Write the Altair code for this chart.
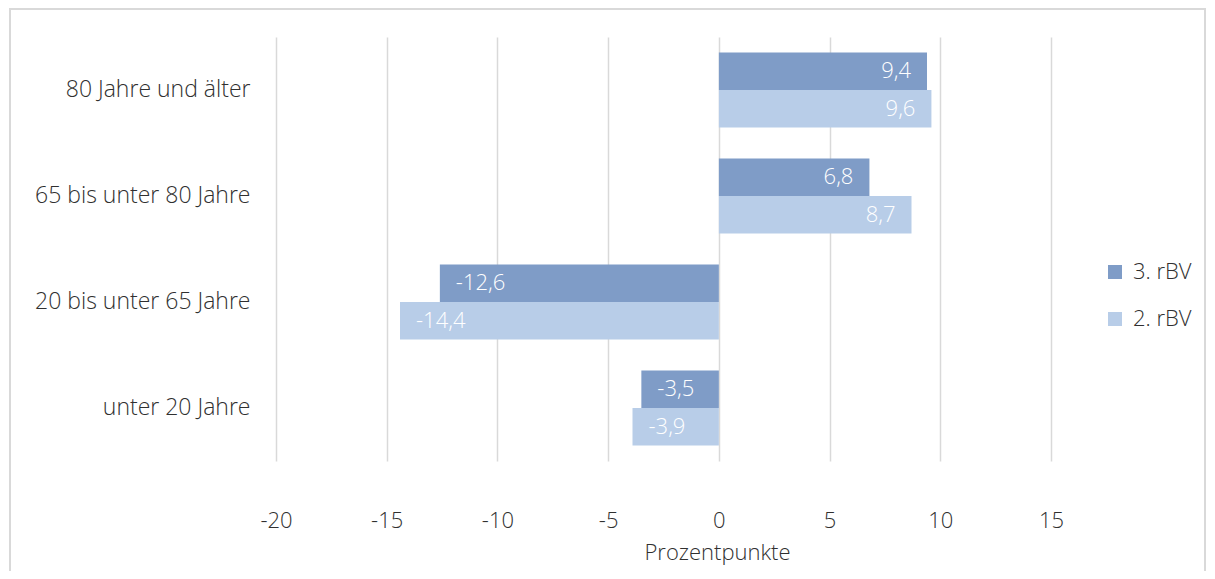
import altair as alt
import pandas as pd

categories = ["80 Jahre und älter", "65 bis unter 80 Jahre", "20 bis unter 65 Jahre", "unter 20 Jahre"]
series = ["3. rBV", "2. rBV"]
values_3 = [9.4, 6.8, -12.6, -3.5]
values_2 = [9.6, 8.7, -14.4, -3.9]
x_ticks = [-20, -15, -10, -5, 0, 5, 10, 15]
colors = ["#7F9CC7", "#B8CDE8"]

rows = []
for c, v in zip(categories, values_3):
    rows.append({"cat": c, "series": series[0], "value": v})
for c, v in zip(categories, values_2):
    rows.append({"cat": c, "series": series[1], "value": v})
df = pd.DataFrame(rows)

FONT = "Open Sans"
FS = 22
TXT = "#303030"

y_enc = alt.Y("cat:N", sort=categories, title=None,
              scale=alt.Scale(paddingInner=0.29, paddingOuter=0.145),
              axis=alt.Axis(labelFontSize=23, labelColor=TXT, labelFont=FONT,
                            labelFontWeight=300, labelPadding=26, ticks=False,
                            domain=False, grid=False, labelLimit=400))
yoff = alt.YOffset("series:N", sort=series)
x_enc = alt.X("value:Q", title="Prozentpunkte",
              scale=alt.Scale(domain=[-20, 15], nice=False, zero=False),
              axis=alt.Axis(values=x_ticks, labelFontSize=FS, labelColor=TXT,
                            labelFont=FONT, labelFontWeight=300, labelPadding=49,
                            labelFlush=False,
                            labelExpr="replace(datum.label, '\u2212', '-')",
                            ticks=False, domain=False, grid=True, gridColor="#D9D9D9",
                            gridWidth=1.5, titleFont=FONT, titleFontWeight=300,
                            titleFontSize=FS, titleColor=TXT,
                            titleAnchor="start", titleAlign="center",
                            titleX=441, titleY=91, titleBaseline="middle"))

base = alt.Chart(df)

bars = base.mark_bar(size=37.5).encode(
    x=x_enc,
    y=y_enc,
    yOffset=yoff,
    color=alt.Color("series:N", sort=series,
                    scale=alt.Scale(domain=series, range=colors),
                    legend=alt.Legend(title=None, orient="none", legendX=828, legendY=224,
                                      symbolType="square", symbolSize=196,
                                      symbolStrokeWidth=0, labelFontSize=FS,
                                      labelFont=FONT, labelFontWeight=300,
                                      labelColor=TXT, rowPadding=25,
                                      labelOffset=7)),
)

lab = base.transform_calculate(
    label="replace(replace(format(datum.value, '.1f'), '.', ','), '\u2212', '-')"
)
text_pos = lab.transform_filter("datum.value >= 0").mark_text(
    align="right", baseline="middle", dx=-16, color="white", fontSize=FS,
    font=FONT, fontWeight=300
).encode(x="value:Q", y=alt.Y("cat:N", sort=categories), yOffset=yoff, text="label:N")
text_neg = lab.transform_filter("datum.value < 0").mark_text(
    align="left", baseline="middle", dx=16, color="white", fontSize=FS,
    font=FONT, fontWeight=300
).encode(x="value:Q", y=alt.Y("cat:N", sort=categories), yOffset=yoff, text="label:N")

border = alt.Chart(pd.DataFrame({"a": [0]})).mark_rect(
    fill=None, stroke="#D9D9D9", strokeWidth=2, clip=False
).encode(x=alt.value(-266), x2=alt.value(929), y=alt.value(-28), y2=alt.value(570))

chart = alt.layer(border, bars, text_pos, text_neg).properties(
    width=775, height=424,
    autosize=alt.AutoSizeParams(type="none"),
    padding={"left": 268, "top": 29, "right": 156, "bottom": 110},
).configure(background="white").configure_view(stroke=None, strokeWidth=0)

chart.save("out.html", embed_options={"renderer": "svg", "actions": False})
